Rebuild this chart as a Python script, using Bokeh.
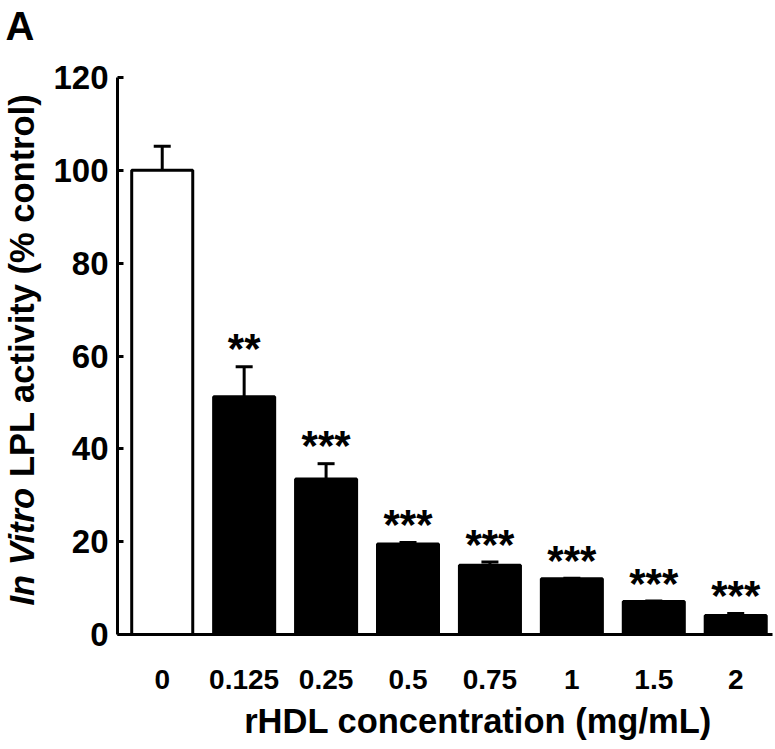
import math
from bokeh.plotting import figure
from bokeh.models import ColumnDataSource, Range1d, FixedTicker, Whisker, TeeHead
from bokeh.embed import file_html
from bokeh.resources import INLINE
from bokeh.core.properties import value

# ---- data ----
concentrations = ["0", "0.125", "0.25", "0.5", "0.75", "1", "1.5", "2"]
activity = [100.0, 51.2, 33.5, 19.5, 14.9, 12.0, 7.1, 4.1]
sem = [5.2, 6.5, 3.3, 0.3, 0.7, 0.1, 0.1, 0.4]
significance = ["", "**", "***", "***", "***", "***", "***", "***"]
y_ticks = [0, 20, 40, 60, 80, 100, 120]
x_title = "rHDL concentration (mg/mL)"
y_title_italic = "In Vitro"
y_title_rest = "LPL activity (% control)"
panel_letter = "A"

FONT = "Liberation Sans"
X0, X1 = -0.546, 7.449
Y0, Y1 = 0, 120
TITLE_PX = 34.5

idx = list(range(len(concentrations)))
upper = [m + e for m, e in zip(activity, sem)]
fills = ["white"] + ["black"] * (len(concentrations) - 1)

src = ColumnDataSource(dict(x=idx, top=activity, lower=activity, upper=upper,
                            sig=significance, fill=fills))

p = figure(width=775, height=749,
           x_range=Range1d(X0, X1), y_range=Range1d(Y0, Y1),
           output_backend="svg", toolbar_location=None,
           min_border_left=117, min_border_right=3,
           min_border_top=77, min_border_bottom=115)
p.outline_line_color = None
p.xgrid.visible = False
p.ygrid.visible = False
p.background_fill_color = "white"
p.border_fill_color = "white"

p.vbar(x="x", top="top", bottom=0, width=0.745, source=src,
       fill_color="fill", line_color="black", line_width=3)

wh = Whisker(source=src, base="x", upper="upper", lower="lower",
             dimension="height", line_color="black", line_width=3,
             upper_head=TeeHead(size=17, line_width=3, line_color="black"),
             lower_head=None, level="annotation")
p.add_layout(wh)

p.text(x="x", y="upper", text="sig", source=src, y_offset=-18,
       text_align="center", text_baseline="alphabetic",
       text_font=value(FONT), text_font_style="bold",
       text_font_size="42px", text_color="black")

# x axis
xa = p.xaxis[0]
xa.ticker = FixedTicker(ticks=idx)
xa.major_label_overrides = {i: c for i, c in zip(idx, concentrations)}
xa.major_tick_in = 0
xa.major_tick_out = 0
xa.minor_tick_in = 0
xa.minor_tick_out = 0
xa.axis_line_width = 3
xa.axis_line_color = "black"
xa.major_label_text_font = FONT
xa.major_label_text_font_style = "bold"
xa.major_label_text_font_size = "28px"
xa.major_label_text_color = "black"
xa.major_label_standoff = 35

# y axis
ya = p.yaxis[0]
ya.ticker = FixedTicker(ticks=y_ticks)
ya.major_tick_in = 6
ya.major_tick_out = 0
ya.major_tick_line_width = 3
ya.major_tick_line_color = "black"
ya.minor_tick_in = 0
ya.minor_tick_out = 0
ya.axis_line_width = 3
ya.axis_line_color = "black"
ya.major_label_text_font = FONT
ya.major_label_text_font_style = "bold"
ya.major_label_text_font_size = "33px"
ya.major_label_text_color = "black"
ya.major_label_standoff = 9

# titles drawn as overlay-level text, offset in pixels from the frame corners
common = dict(text_font=value(FONT), text_color="black", level="overlay",
              text_baseline="middle")
# x title
p.text(x=[X0], y=[Y0], text=[x_title], x_offset=360.5, y_offset=86,
       text_align="center", text_font_style="bold",
       text_font_size="34.5px", **common)
# y title (italic part + bold rest)
p.text(x=[X0], y=[Y0], text=[y_title_italic], x_offset=-95.5, y_offset=-29,
       angle=math.pi / 2, text_align="left", text_font_style="bold italic",
       text_font_size=f"{TITLE_PX}px", **common)
p.text(x=[X0], y=[Y0], text=[y_title_rest], x_offset=-95.5,
       y_offset=-29 - 3.723 * TITLE_PX,
       angle=math.pi / 2, text_align="left", text_font_style="bold",
       text_font_size=f"{TITLE_PX}px", **common)
# panel letter
p.text(x=[X0], y=[Y1], text=[panel_letter], x_offset=-112, y_offset=-52,
       text_align="left", text_font_style="bold",
       text_font_size="40px", **common)

open("out.html", "w").write(file_html(p, INLINE))
